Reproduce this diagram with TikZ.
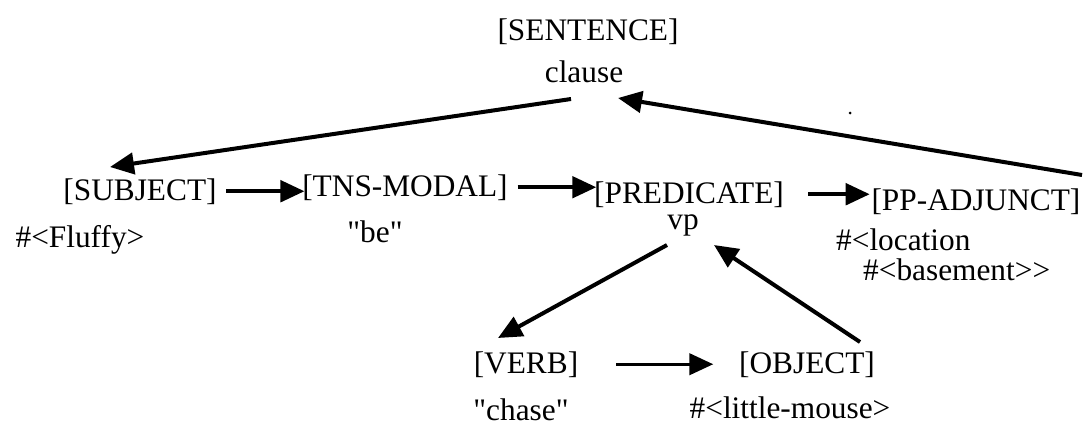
\documentclass[tikz,border=0pt]{standalone}
\usepackage{fontspec}
\setmainfont{Liberation Serif}
\usetikzlibrary{arrows.meta,calc}

\tikzset{every picture/.style={line width=0.75pt}}
\tikzset{
  lbl/.style={font=\fontsize{23.5}{27}\selectfont, inner sep=2pt, anchor=base},
  link/.style={line width=3pt, -{Triangle[length=18pt,width=16pt]}},
  thinlink/.style={link, line width=2.5pt}
}

\begin{document}
\begin{tikzpicture}[x=0.75pt,y=0.75pt,yscale=-1,xscale=1]
\useasboundingbox (0,0) rectangle (1091,425);

% Text Node
\node (sentence) at (588,40) [lbl] {[SENTENCE]};
% Text Node
\node (clause) at (584,82) [lbl] {clause};
% Text Node
\node (subj) at (140,200) [lbl] {[SUBJECT]};
% Text Node
\node (tns) at (405,196) [lbl] {[TNS-MODAL]};
% Text Node
\node (pred) at (689,203) [lbl] {[PREDICATE]};
% Text Node
\node (vp) at (683,229) [lbl] {vp};
% Text Node
\node (pp) at (976,210) [lbl] {[PP-ADJUNCT]};
% Text Node
\node (fluffy) at (80,247) [lbl] {\#<Fluffy>};
% Text Node
\node (be) at (375,242) [lbl] {\textquotedbl be\textquotedbl};
% Text Node
\node (loc) at (833,250) [lbl, anchor=base west] {\#<location};
% Text Node
\node (basement) at (860,280) [lbl, anchor=base west] {\#<basement>{}>};
% Text Node
\node (verb) at (526,373) [lbl] {[VERB]};
% Text Node
\node (obj) at (807,373) [lbl] {[OBJECT]};
% Text Node
\node (chase) at (521,420) [lbl] {\textquotedbl chase\textquotedbl};
% Text Node
\node (mouse) at (790,418) [lbl] {\#<little-mouse>};

%Straight Lines
\draw [link] ($(clause.base)+(-13,17)$) -- ($(subj.base)+(-30,-33)$);
%Straight Lines
\draw [link] ($(pp.base)+(106,-35)$) -- ($(clause.base)+(34,16)$);
%Straight Lines
\draw [link, shorten <=5pt, shorten >=-4pt] (subj.east) -- (subj.east -| tns.west);
%Straight Lines
\draw [link, shorten <=5pt, shorten >=-4pt] (tns.east) -- (tns.east -| pred.west);
%Straight Lines
\draw [link, shorten <=16pt, shorten >=-1pt] (pred.east) -- (pred.east -| pp.west);
%Straight Lines
\draw [link] ($(vp.base)+(-16,16)$) -- ($(verb.base)+(-28,-35)$);
%Straight Lines
\draw [link] ($(obj.base)+(53,-31)$) -- ($(vp.base)+(31,16)$);
%Straight Lines
\draw [thinlink, shorten <=26pt, shorten >=17pt] (verb.east) -- (verb.east -| obj.west);

%Shape: Circle
\fill (850,113) circle [radius=1.5];

\end{tikzpicture}
\end{document}
